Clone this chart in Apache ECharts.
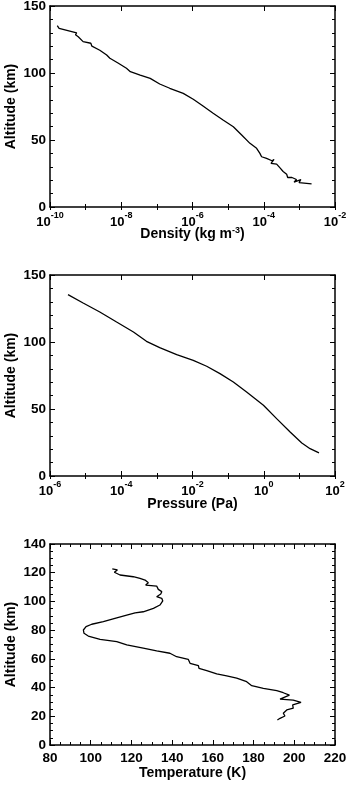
<!DOCTYPE html>
<html>
<head>
<meta charset="utf-8">
<script src="https://cdn.jsdelivr.net/npm/echarts@6/dist/echarts.min.js"></script>
<style>html,body{margin:0;padding:0;background:#fff;}#c{width:348px;height:793px;}</style>
</head>
<body>
<div id="c"></div>
<script>
// ---- Data ----
const densityAlt = [135.3,133.3,130,130.5,128.5,127,123.4,122.2,120,117,113.4,111,107.5,103.5,101,98.5,96,91.8,88.6,84.8,80.4,76.1,69.9,64.9,59.9,53.7,47.5,43.8,40,37.5,36.3,34.5,35.5,32.5,32,29,26.5,24.4,22,22,20.5,18.5,20.5,18.2,17.2];
const densityVal = [1.6e-10,1.8e-10,5.6e-10,6.2e-10,5.2e-10,6.2e-10,8.5e-10,1.4e-9,1.5e-9,2.5e-9,3.9e-9,4.8e-9,8.1e-9,1.4e-8,1.8e-8,3.4e-8,6.5e-8,1.2e-7,2.3e-7,5.5e-7,1.05e-6,1.8e-6,3.8e-6,7.2e-6,1.4e-5,2.4e-5,4.1e-5,6.3e-5,7.8e-5,8.7e-5,1.2e-4,1.7e-4,1.95e-4,1.6e-4,2.3e-4,2.9e-4,3.5e-4,4.4e-4,4.7e-4,6.2e-4,8.3e-4,7.1e-4,1.1e-3,9.8e-4,2.2e-3];

const pressureAlt = [135.4,129.1,122.4,114.9,107.5,100.5,95.8,90.6,86.3,81.9,76.4,70.1,62.7,52.8,42.8,32.8,24.6,20.4,17.2];
const pressureVal = [3.2e-6,8.5e-6,2.5e-5,7.4e-5,2.2e-4,5.1e-4,1.2e-3,3.6e-3,1.05e-2,2.5e-2,5.9e-2,0.14,0.33,0.98,2.3,5.5,11.7,20,35.5];

const tempAlt = [122.6,121.9,120.3,118.4,117.2,116.1,114.9,113.0,111.4,110.7,108.4,106.8,105.2,103.3,102.2,100.3,97.5,95.2,92.8,92.1,90.5,88.2,85.9,84.1,82.4,80.1,77.8,75.9,73.6,72.0,69.7,67.4,65.5,63.9,61.5,59.7,56.9,55.2,53.4,51.8,49.5,48.1,46.5,44.1,41.3,39.5,37.8,36.4,34.8,32.0,31.3,29.7,27.9,25.6,24.4,22.1,20.2,18.6,17.4];
const tempVal = [110.6,113.1,111.6,114.4,120.9,124.2,126.7,128.3,127.0,132.4,133.2,134.9,134.4,132.4,134.9,135.4,134.0,130.8,125.8,121.8,117.7,111.9,106.2,100.5,97.7,96.4,96.7,98.8,104.6,112.8,117.7,125.8,132.4,138.9,142.2,147.9,148.8,152.9,153.2,157.0,161.9,166.8,171.7,176.6,179.1,184.8,191.4,194.6,197.6,193.0,199.5,203.3,199.2,199.5,196.3,194.6,195.4,193.0,191.7];

const densityRange = [1e-10, 1e-2];
const pressureRange = [1e-6, 1e2];
const tempRange = [80, 220];
const altRange1 = [0, 150];
const altRange3 = [0, 140];

const altTitle = 'Altitude (km)';
const densityTitle = ['Density (kg m', '-3', ')'];
const pressureTitle = 'Pressure (Pa)';
const tempTitle = 'Temperature (K)';

// ---- Styling helpers ----
const FONT = "'Liberation Sans', Arial, Helvetica, sans-serif";
const AX = {lineStyle: {color: '#000', width: 1.5}};
const TICK = {show: true, inside: true, length: 5, lineStyle: {color: '#000', width: 1}};
const MINOR = {show: true, length: 3, lineStyle: {color: '#000', width: 1}};
const titleStyle = {fontFamily: FONT, fontWeight: 'bold', fontSize: 14, color: '#000'};

function logAxes(grid, range, name, pos, gap) {
  const main = {
    type: 'log', logBase: 10, gridIndex: grid, position: pos, min: range[0], max: range[1], interval: 2,
    axisLine: {show: true, onZero: false, ...AX}, axisTick: TICK, splitLine: {show: false},
    axisLabel: pos === 'bottom' ? {
      show: true, margin: 4,
      formatter: v => '{b|10}{s|' + Math.round(Math.log10(v)) + '}',
      rich: {
        b: {fontFamily: FONT, fontWeight: 'bold', fontSize: 13, color: '#000', lineHeight: 18, verticalAlign: 'bottom'},
        s: {fontFamily: FONT, fontWeight: 'bold', fontSize: 9, color: '#000', lineHeight: 10, verticalAlign: 'top'}
      }
    } : {show: false}
  };
  if (pos === 'bottom') {
    main.name = name; main.nameLocation = 'middle'; main.nameGap = gap; main.nameMoveOverlap = false;
    main.nameTextStyle = {...titleStyle, rich: {
      t: {...titleStyle, lineHeight: 15, verticalAlign: 'bottom'},
      u: {fontFamily: FONT, fontWeight: 'bold', fontSize: 9, color: '#000', lineHeight: 9, verticalAlign: 'top'}
    }};
  }
  const minor = {
    type: 'log', logBase: 10, gridIndex: grid, position: pos, min: range[0], max: range[1], interval: 1,
    axisLine: {show: false}, axisTick: {show: true, inside: true, length: 3, lineStyle: {color: '#000', width: 1}},
    axisLabel: {show: false}, splitLine: {show: false}
  };
  return [main, minor];
}

function linX(grid, range, interval, split, name, pos) {
  return {
    type: 'value', gridIndex: grid, position: pos, min: range[0], max: range[1], interval: interval,
    axisLine: {show: true, onZero: false, ...AX}, axisTick: TICK, minorTick: {...MINOR, splitNumber: split},
    splitLine: {show: false}, minorSplitLine: {show: false},
    axisLabel: pos === 'bottom' ? {show: true, margin: 6, fontFamily: FONT, fontWeight: 'bold', fontSize: 13.5, color: '#000'} : {show: false},
    name: pos === 'bottom' ? name : '', nameLocation: 'middle', nameGap: 21, nameMoveOverlap: false, nameTextStyle: titleStyle
  };
}

function linY(grid, range, interval, split, pos) {
  return {
    type: 'value', gridIndex: grid, position: pos, min: range[0], max: range[1], interval: interval,
    axisLine: {show: true, onZero: false, ...AX}, axisTick: TICK, minorTick: {...MINOR, splitNumber: split},
    splitLine: {show: false}, minorSplitLine: {show: false},
    axisLabel: pos === 'left' ? {show: true, margin: 4, fontFamily: FONT, fontWeight: 'bold', fontSize: 13.5, color: '#000'} : {show: false},
    name: pos === 'left' ? altTitle : '', nameLocation: 'middle', nameGap: 32, nameMoveOverlap: false, nameTextStyle: titleStyle
  };
}

const densityName = '{t|' + densityTitle[0] + '}{u|' + densityTitle[1] + '}{t|' + densityTitle[2] + '}';

const xAxes = [
  ...logAxes(0, densityRange, densityName, 'bottom', 19),   // 0,1
  ...logAxes(0, densityRange, '', 'top'),                   // 2,3
  ...logAxes(1, pressureRange, pressureTitle, 'bottom', 21),// 4,5
  ...logAxes(1, pressureRange, '', 'top'),                  // 6,7
  linX(2, tempRange, 20, 4, tempTitle, 'bottom'),           // 8
  linX(2, tempRange, 20, 4, '', 'top')                      // 9
];
const yAxes = [
  linY(0, altRange1, 50, 5, 'left'),  // 0
  linY(0, altRange1, 50, 5, 'right'), // 1
  linY(1, altRange1, 50, 5, 'left'),  // 2
  linY(1, altRange1, 50, 5, 'right'), // 3
  linY(2, altRange3, 20, 4, 'left'),  // 4
  linY(2, altRange3, 20, 4, 'right')  // 5
];

function zip(xs, ys) { return xs.map((x, i) => [x, ys[i]]); }
const lineStyle = {color: '#000', width: 1.3};

const option = {
  animation: false,
  backgroundColor: '#fff',
  grid: [
    {left: 50, right: 13, top: 6, height: 201, containLabel: false, outerBoundsMode: 'none'},
    {left: 50, right: 13, top: 275, height: 201, containLabel: false, outerBoundsMode: 'none'},
    {left: 50, right: 13, top: 544, height: 201, containLabel: false, outerBoundsMode: 'none'}
  ],
  xAxis: xAxes,
  yAxis: yAxes,
  series: [
    {type: 'line', xAxisIndex: 0, yAxisIndex: 0, data: zip(densityVal, densityAlt), showSymbol: false, lineStyle: lineStyle},
    {type: 'line', xAxisIndex: 4, yAxisIndex: 2, data: zip(pressureVal, pressureAlt), showSymbol: false, lineStyle: lineStyle},
    {type: 'line', xAxisIndex: 8, yAxisIndex: 4, data: zip(tempVal, tempAlt), showSymbol: false, lineStyle: lineStyle}
  ]
};
const chart = echarts.init(document.getElementById('c'), null, {renderer: 'canvas'});
chart.setOption(option);
</script>
</body>
</html>
